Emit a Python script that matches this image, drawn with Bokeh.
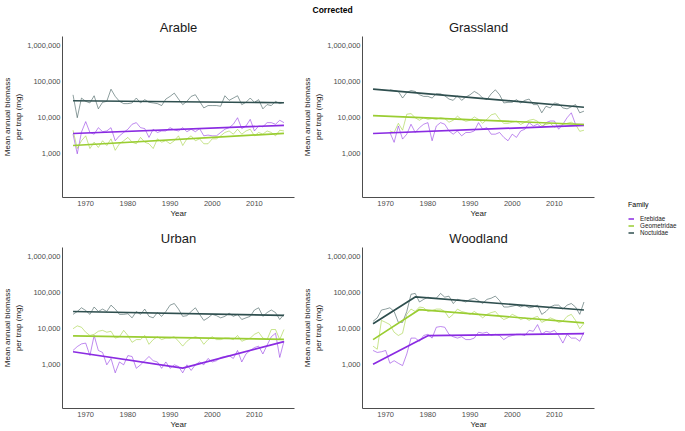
from bokeh.plotting import figure
from bokeh.models import (Range1d, FixedTicker, NumeralTickFormatter, Title,
                          Legend, LegendItem, ColumnDataSource)
from bokeh.layouts import row, column
from bokeh.embed import file_html
from bokeh.resources import INLINE

# ---------------- data ----------------
YEARS = list(range(1967, 2018))
YEARS_GRASS = list(range(1971, 2018))

FAMILIES = ["Erebidae", "Geometridae", "Noctuidae"]
COLORS = {"Erebidae": "#8a2be2", "Geometridae": "#9acd32", "Noctuidae": "#2f4f4f"}

arable_erebidae = [3500, 1000, 4000, 7800, 3900, 3500, 5300, 4100, 4300, 5300,
                   2300, 3150, 3900, 4800, 6600, 7300, 5300, 5000, 2850, 4800,
                   3900, 4300, 4300, 5300, 4600, 4300, 5300, 4100, 4800, 4100,
                   5000, 3150, 3300, 3150, 3150, 3900, 4800, 5300, 6600, 10000,
                   5000, 5900, 9000, 4300, 5900, 5600, 7300, 7300, 6600, 8500, 7300]
arable_geometridae = [4500, 1400, 2300, 3150, 1400, 2100, 1500, 2300, 1700, 2600,
                      1250, 1900, 2300, 2850, 2100, 1900, 2850, 2100, 1900, 1400,
                      2600, 2100, 2300, 1900, 2300, 3150, 1700, 2600, 3150, 2300,
                      2600, 1900, 1900, 2600, 2600, 3150, 3900, 4300, 3500, 4800,
                      3500, 4300, 4800, 3150, 3900, 3500, 4300, 3900, 3150, 4500, 4300]
arable_noctuidae = [43000, 10000, 35000, 28500, 25700, 40600, 17600, 26700, 28500, 61700,
                    39000, 28500, 24600, 24600, 25700, 35100, 25700, 31600, 26700, 25700,
                    24600, 21700, 32900, 39000, 48100, 32900, 23100, 28500, 39000, 43300,
                    28500, 18700, 21700, 21700, 21700, 20800, 40600, 30300, 35100, 40600,
                    23100, 26700, 35100, 26700, 31600, 17600, 23100, 21700, 28500, 24600, 26700]

grass_erebidae = [3900, 2080, 5900, 2560, 3500, 6600, 3900, 5300, 6600, 7300,
                  2300, 5900, 7300, 6600, 4300, 3500, 4300, 3150, 3900, 3900,
                  4300, 7300, 4800, 5300, 3500, 3500, 3900, 2850, 2300, 3500,
                  2850, 4300, 4800, 7300, 5900, 6600, 5300, 7300, 8100, 8100,
                  4800, 6600, 10000, 13700, 6600, 6600, 6600]
grass_geometridae = [4300, 3900, 7000, 4500, 12500, 13000, 10000, 8500, 10000, 9000,
                     9500, 9000, 10000, 9500, 7500, 8500, 11000, 9000, 8000, 8500,
                     10500, 9000, 7000, 9000, 12000, 13000, 9000, 7000, 7000, 7500,
                     8000, 6500, 7500, 8500, 9000, 8000, 6000, 6500, 7000, 5500,
                     6000, 6500, 7000, 7500, 6500, 4200, 4500]
grass_noctuidae = [59300, 56600, 53400, 35100, 50100, 56600, 53400, 43300, 39000, 39000,
                   35100, 45900, 45900, 40600, 32900, 30300, 40600, 30300, 37400, 43300,
                   53400, 45900, 35100, 31600, 45900, 59300, 43300, 25700, 26700, 26700,
                   31600, 25700, 30300, 32900, 23100, 23100, 13700, 20800, 18700, 25700,
                   24100, 18700, 17600, 20000, 23100, 13700, 15200]

urban_erebidae = [2500, 3200, 3800, 4000, 1800, 6500, 2500, 2200, 1000, 1500,
                  600, 1200, 1000, 1800, 1700, 800, 1000, 1300, 1700, 1300,
                  1200, 800, 1200, 800, 1000, 900, 600, 1000, 700, 1000,
                  1200, 1000, 1500, 1200, 1300, 1600, 1700, 1800, 1500, 2500,
                  1200, 2000, 2500, 3000, 3300, 2000, 3500, 6000, 7500, 1600, 4500]
urban_geometridae = [10000, 12000, 11000, 8000, 6500, 7000, 8500, 9000, 8000, 8500,
                     5500, 6000, 9000, 6500, 4200, 5000, 5000, 6500, 3700, 5000,
                     6000, 5000, 5500, 5500, 6000, 4500, 3300, 4500, 5500, 6000,
                     5500, 3700, 5000, 6000, 5000, 5000, 5500, 5500, 5000, 6500,
                     4500, 5000, 5500, 7000, 8000, 5500, 5000, 9500, 9500, 5000, 9500]
urban_noctuidae = [25000, 30000, 38000, 32000, 25000, 40000, 30000, 35000, 30000, 45000,
                   35000, 25000, 25000, 26000, 20000, 30000, 25000, 35000, 22000, 20000,
                   28000, 22000, 30000, 45000, 50000, 35000, 22000, 23000, 30000, 38000,
                   25000, 17000, 20000, 25000, 23000, 20000, 22000, 27000, 22000, 25000,
                   18000, 20000, 22000, 33000, 38000, 22000, 28000, 33000, 28000, 18000, 25000]

wood_erebidae = [2500, 2200, 2300, 2500, 1100, 1300, 1100, 950, 2000, 5500,
                 5500, 4500, 6500, 7000, 5500, 11000, 11500, 11000, 7000, 6000,
                 5500, 6000, 5000, 5000, 5500, 8000, 7500, 8000, 6500, 7000,
                 6500, 5000, 6000, 6500, 7000, 7000, 6500, 9000, 8500, 13000,
                 7000, 8500, 8000, 9000, 6500, 4000, 7000, 5500, 5500, 4500, 8000]
wood_geometridae = [3300, 2700, 17000, 15000, 13000, 8000, 6500, 7500, 25000, 35000,
                    30000, 40000, 38000, 30000, 32000, 35000, 35000, 30000, 20000, 25000,
                    35000, 30000, 28000, 25000, 30000, 25000, 20000, 25000, 28000, 30000,
                    22000, 18000, 20000, 25000, 22000, 18000, 20000, 17000, 20000, 22000,
                    15000, 17000, 20000, 18000, 15000, 16000, 22000, 25000, 17000, 10000, 14000]
wood_noctuidae = [16000, 20000, 33000, 35000, 38000, 30000, 15000, 15000, 30000, 90000,
                  95000, 55000, 65000, 75000, 70000, 70000, 95000, 75000, 80000, 50000,
                  65000, 60000, 55000, 65000, 70000, 60000, 50000, 65000, 70000, 80000,
                  60000, 40000, 40000, 42000, 45000, 40000, 45000, 38000, 40000, 45000,
                  25000, 30000, 40000, 45000, 45000, 35000, 45000, 50000, 40000, 25000, 55000]

# fitted (segmented) trends: breakpoint years and fitted values
arable_fit = {"Erebidae": ([1967, 2017], [3650, 6150]),
              "Geometridae": ([1967, 2017], [1700, 3700]),
              "Noctuidae": ([1967, 2017], [29500, 26000])}
grass_fit = {"Erebidae": ([1967, 2017], [3650, 6150]),
             "Geometridae": ([1967, 2017], [11500, 6500]),
             "Noctuidae": ([1967, 2017], [62000, 19500])}
urban_fit = {"Erebidae": ([1967, 1993, 2017], [2300, 810, 4400]),
             "Geometridae": ([1967, 2017], [6300, 5100]),
             "Noctuidae": ([1967, 2017], [30000, 23500])}
wood_fit = {"Erebidae": ([1967, 1980, 2017], [1030, 6400, 7300]),
            "Geometridae": ([1967, 1978, 2017], [5000, 34000, 14500]),
            "Noctuidae": ([1967, 1977, 2017], [13700, 76000, 33000])}

X_TICKS = [1970, 1980, 1990, 2000, 2010]
Y_TICKS = [1000, 10000, 100000, 1000000]

FONT = "Liberation Sans"


def style_title(t, size="13px", bold=False, align="center"):
    t.align = align
    t.text_font = FONT
    t.text_font_size = size
    t.text_font_style = "bold" if bold else "normal"
    t.text_color = "#000000" if bold else "#1a1a1a"


def make_panel(name, years, raw, fits, width, height, top, bottom):
    p = figure(width=width, height=height, y_axis_type="log",
               x_range=Range1d(1964.5, 2019.5),
               y_range=Range1d(10 ** 1.79, 10 ** 6.25),
               output_backend="svg", toolbar_location=None,
               min_border_left=56, min_border_right=6,
               min_border_top=top, min_border_bottom=bottom)
    p.outline_line_color = None
    p.grid.visible = False
    p.title.text = name
    style_title(p.title)
    p.title.standoff = 4

    for ax in (p.xaxis[0], p.yaxis[0]):
        ax.axis_line_color = "#4d4d4d"
        ax.axis_line_width = 1
        ax.major_tick_line_color = None
        ax.minor_tick_line_color = None
        ax.major_tick_out = 0
        ax.major_tick_in = 0
        ax.minor_tick_out = 0
        ax.minor_tick_in = 0
        ax.major_label_text_font = FONT
        ax.major_label_text_font_size = "7.5px"
        ax.major_label_text_color = "#4d4d4d"
        ax.axis_label_text_font = FONT
        ax.axis_label_text_font_size = "8px"
        ax.axis_label_text_font_style = "normal"
        ax.axis_label_text_color = "#1a1a1a"
    p.xaxis.ticker = FixedTicker(ticks=X_TICKS)
    p.xaxis.axis_label = "Year"
    p.xaxis.major_label_standoff = 3
    p.xaxis.axis_label_standoff = 0
    p.yaxis.ticker = FixedTicker(ticks=Y_TICKS)
    p.yaxis.formatter = NumeralTickFormatter(format="0,0")
    p.yaxis.axis_label = "Mean annual biomass\nper trap (mg)"
    p.yaxis.major_label_standoff = 2
    p.yaxis.axis_label_standoff = 1

    for fam in FAMILIES:
        src = ColumnDataSource(dict(x=years, y=raw[fam]))
        p.line("x", "y", source=src, color=COLORS[fam], line_width=1.0, line_alpha=0.55)
    for fam in FAMILIES:
        fx, fy = fits[fam]
        src = ColumnDataSource(dict(x=fx, y=fy))
        p.line("x", "y", source=src, color=COLORS[fam], line_width=1.7)
    return p


W = 300
TOP_H, BOT_H = 220, 211

arable_raw = {"Erebidae": arable_erebidae, "Geometridae": arable_geometridae,
              "Noctuidae": arable_noctuidae}
p_arable = make_panel("Arable", YEARS, arable_raw, arable_fit, W, TOP_H, 36, 23)
p_grass = make_panel("Corrected", YEARS_GRASS,
                     {"Erebidae": grass_erebidae, "Geometridae": grass_geometridae,
                      "Noctuidae": grass_noctuidae}, grass_fit, W, TOP_H, 36, 23)
style_title(p_grass.title, size="8.5px", bold=True, align="left")
p_grass.title.offset = -50
p_grass.title.standoff = 2
t_grass = Title(text="Grassland", standoff=4)
style_title(t_grass)
p_grass.add_layout(t_grass, "above")

p_urban = make_panel("Urban", YEARS,
                     {"Erebidae": urban_erebidae, "Geometridae": urban_geometridae,
                      "Noctuidae": urban_noctuidae}, urban_fit, W, BOT_H, 27, 23)
p_wood = make_panel("Woodland", YEARS,
                    {"Erebidae": wood_erebidae, "Geometridae": wood_geometridae,
                     "Noctuidae": wood_noctuidae}, wood_fit, W, BOT_H, 27, 23)

# legend panel (its lines lie outside the panel's view; only the legend keys show)
p_leg = figure(width=85, height=TOP_H + BOT_H, x_range=Range1d(0, 1), y_range=Range1d(0, 1),
               x_axis_location=None, y_axis_location=None, min_border=0,
               output_backend="svg", toolbar_location=None)
p_leg.outline_line_color = None
p_leg.grid.visible = False
items = []
for fam in FAMILIES:
    r = p_leg.line(x=YEARS, y=arable_raw[fam], color=COLORS[fam], line_width=1.5)
    items.append(LegendItem(label=fam, renderers=[r]))
leg = Legend(items=items, title="Family", location=(28, 195),
             padding=0, margin=0, spacing=0, title_standoff=7,
             glyph_width=6, glyph_height=7, label_height=7, label_standoff=6,
             label_text_font=FONT, label_text_font_size="6.3px", label_text_color="#1a1a1a",
             title_text_font=FONT, title_text_font_size="7px", title_text_font_style="normal",
             title_text_color="#000000",
             border_line_color=None, background_fill_alpha=0)
p_leg.add_layout(leg)

layout = row(column(p_arable, p_urban), column(p_grass, p_wood), p_leg)

open("out.html", "w").write(file_html(layout, INLINE))
